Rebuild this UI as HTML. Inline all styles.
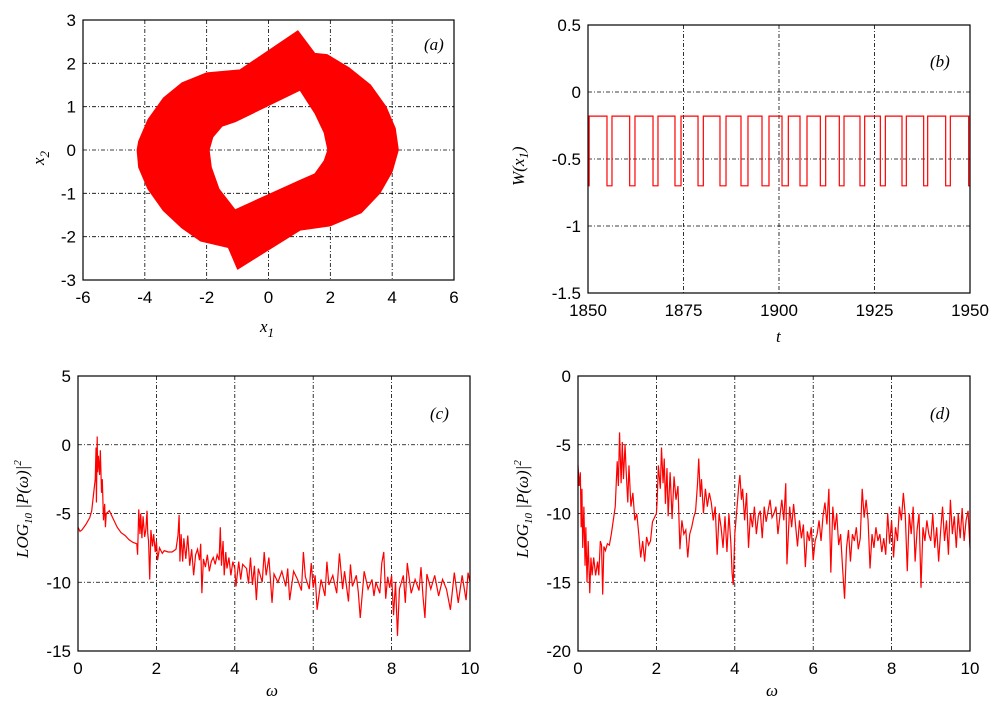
<!DOCTYPE html>
<html><head><meta charset="utf-8"><style>
body{margin:0;background:#fff}
svg text{font-family:"Liberation Sans",sans-serif;font-size:17px;fill:#000}
.it{font-family:"Liberation Serif",serif;font-style:italic}
</style></head><body>
<svg id="fig" width="1000" height="700" viewBox="0 0 1000 700" xmlns="http://www.w3.org/2000/svg"></svg>
<script>
// ---- panel (a) attractor boundaries (x1, x2)
const outerX=[0.95,1.5,1.9,2.6,3.3,3.8,4.1,4.2,4.0,3.6,3.0,2.0,1.02,-1.0,-1.3,-2.2,-2.8,-3.4,-3.9,-4.2,-4.25,-4.2,-3.9,-3.4,-2.8,-2.0,-0.92];
const outerY=[2.75,2.23,2.2,1.9,1.5,1.0,0.5,0,-0.5,-1.0,-1.45,-1.75,-1.85,-2.75,-2.25,-2.1,-1.8,-1.4,-0.9,-0.4,0,0.2,0.7,1.2,1.55,1.78,1.85];
const innerX=[1.02,-1.08,-1.5,-1.8,-1.92,-1.85,-1.6,-1.08,1.02,1.5,1.8,1.92,1.8,1.5];
const innerY=[1.38,0.65,0.55,0.3,0,-0.4,-0.9,-1.38,-0.7,-0.55,-0.25,0,0.4,0.85];
// ---- panel (b) square wave low intervals (t)
const lowStart=[1854.97,1860.91,1867.02,1872.77,1878.80,1884.55,1890.05,1895.55,1900.79,1905.50,1910.82,1915.79,1921.20,1926.53,1932.20,1937.87,1943.63,1949.65];
const lowEnd=[1856.28,1862.30,1868.32,1874.35,1880.19,1886.13,1891.88,1897.38,1902.44,1907.33,1912.22,1917.02,1922.43,1927.84,1933.33,1938.92,1944.85,1950];
const highLevel=-0.18, lowLevel=-0.7;
// ---- panel (c) spectrum
const cW=[0,0.05,0.1,0.2,0.3,0.35,0.4,0.44,0.46,0.47,0.49,0.5,0.52,0.55,0.57,0.6,0.62,0.65,0.68,0.7,0.72,0.8,0.9,1.0,1.1,1.2,1.3,1.4,1.5,1.52,1.55,1.58,1.6,1.63,1.66,1.7,1.73,1.76,1.78,1.8,1.83,1.86,1.9,1.93,1.97,2.0,2.03,2.08,2.15,2.2,2.3,2.4,2.5,2.55,2.58,2.6,2.63,2.67,2.7,2.75,2.8,2.85,2.9,2.95,3.0,3.05,3.1,3.13,3.16,3.2,3.25,3.3,3.35,3.4,3.45,3.5,3.55,3.6,3.63,3.66,3.7,3.73,3.77,3.8,3.85,3.9,3.95,4.0,4.03,4.1,4.15,4.2,4.3,4.35,4.4,4.45,4.5,4.55,4.6,4.7,4.75,4.8,4.87,4.95,5.0,5.1,5.2,5.3,5.35,5.4,5.5,5.6,5.7,5.75,5.8,5.9,5.95,6.0,6.05,6.1,6.2,6.3,6.35,6.4,6.5,6.6,6.67,6.75,6.8,6.9,6.95,7.0,7.1,7.15,7.2,7.3,7.4,7.5,7.55,7.6,7.7,7.75,7.8,7.85,7.9,7.95,8.0,8.05,8.1,8.15,8.2,8.3,8.35,8.4,8.5,8.6,8.7,8.75,8.8,8.85,8.9,9.0,9.1,9.2,9.3,9.4,9.5,9.6,9.7,9.8,9.9,9.95,10.0];
const cP=[-6.0,-6.3,-6.2,-5.8,-5.3,-4.8,-3.5,-2.5,-0.2,-4.2,0.6,-2,-0.8,-2.2,-0.4,-3.5,-2.5,-5.5,-4.3,-6.0,-5.0,-4.8,-5.4,-6.0,-6.4,-6.6,-6.9,-7.1,-7.2,-8.0,-4.7,-6.5,-5,-6.8,-5.2,-6.7,-6.2,-4.8,-6.5,-7,-9.8,-6.2,-7.4,-6.5,-7.8,-7.0,-8.4,-7.5,-7.9,-7.7,-7.8,-7.8,-7.6,-6.6,-5.1,-8.5,-6.5,-8.5,-6.8,-8.3,-6.6,-8.8,-7.6,-9.5,-8,-7.6,-8.4,-7.2,-10.8,-8.3,-8.9,-8.0,-9.2,-8.5,-8.2,-8.7,-8.0,-8.4,-6.0,-8.8,-7.0,-9.5,-7.8,-9.0,-8.2,-9.5,-8.5,-9.0,-10.3,-8.5,-9.8,-8.7,-9.0,-10.1,-8.2,-10.2,-8.8,-11.3,-9.0,-10.0,-7.8,-9.5,-8.2,-11.5,-9.4,-10.0,-9.2,-10.3,-9.0,-11.3,-9.2,-9.8,-10.6,-7.8,-9.6,-10.5,-8.6,-10.4,-9.5,-12.0,-9.8,-11.0,-8.5,-10.2,-9.5,-10.8,-7.9,-10.5,-9.2,-11.4,-8.7,-10.3,-9.5,-10.7,-12.6,-9.2,-10.5,-9.8,-11.0,-10.0,-10.8,-8.6,-7.8,-11.2,-9.6,-10.4,-9.5,-12.4,-10.0,-13.9,-10.5,-9.5,-11.5,-8.6,-10.8,-9.8,-10.6,-8.9,-11.0,-12.6,-9.4,-10.5,-9.5,-11.0,-9.8,-10.5,-12.0,-9.3,-11.5,-9.5,-11.3,-9.3,-10.0];
// ---- panel (d) spectrum
const dW=[0,0.03,0.06,0.08,0.1,0.12,0.15,0.18,0.2,0.23,0.26,0.3,0.33,0.36,0.4,0.45,0.5,0.53,0.57,0.6,0.63,0.66,0.7,0.75,0.8,0.85,0.9,0.95,1.0,1.03,1.06,1.1,1.13,1.16,1.2,1.23,1.27,1.3,1.35,1.4,1.45,1.5,1.55,1.6,1.65,1.7,1.75,1.8,1.85,1.9,1.95,2.0,2.02,2.05,2.1,2.13,2.17,2.2,2.23,2.27,2.3,2.35,2.4,2.45,2.5,2.55,2.6,2.65,2.7,2.75,2.8,2.85,2.9,2.95,3.0,3.05,3.08,3.12,3.15,3.2,3.25,3.3,3.35,3.4,3.45,3.5,3.55,3.6,3.65,3.7,3.75,3.8,3.85,3.9,3.93,3.96,4.0,4.05,4.1,4.13,4.17,4.2,4.25,4.3,4.35,4.4,4.45,4.5,4.55,4.6,4.65,4.7,4.75,4.8,4.85,4.9,4.95,5.0,5.05,5.1,5.15,5.2,5.25,5.3,5.33,5.4,5.45,5.5,5.6,5.65,5.7,5.75,5.8,5.85,5.9,5.95,6.0,6.05,6.1,6.15,6.2,6.25,6.3,6.35,6.4,6.45,6.5,6.55,6.6,6.65,6.7,6.75,6.8,6.85,6.9,6.95,7.0,7.05,7.1,7.15,7.2,7.25,7.3,7.35,7.4,7.45,7.5,7.55,7.6,7.65,7.7,7.75,7.8,7.85,7.9,7.95,8.0,8.05,8.1,8.15,8.2,8.25,8.3,8.35,8.4,8.45,8.5,8.55,8.6,8.65,8.7,8.75,8.8,8.85,8.9,8.95,9.0,9.05,9.1,9.15,9.2,9.25,9.3,9.35,9.4,9.45,9.5,9.55,9.6,9.65,9.7,9.75,9.8,9.85,9.9,9.95,10.0];
const dP=[-6.5,-8,-7,-11,-8.2,-12.5,-9.5,-13.8,-11,-15,-12,-15.8,-13.2,-14.5,-13.2,-14.5,-13.5,-14.5,-12.0,-12.3,-15.9,-12.4,-12.7,-12.2,-12.3,-11.5,-10.5,-9.5,-6.2,-8.0,-4.1,-7.8,-4.8,-7.5,-5.0,-7.0,-9.2,-6.5,-9.5,-8.5,-10.5,-10.0,-11.5,-13.2,-12.0,-13.5,-11.7,-12.3,-12.0,-10.6,-10.3,-10.0,-9.0,-6.5,-8.2,-5.2,-7.8,-6.0,-9.3,-6.7,-10.2,-7.0,-10.4,-7.3,-9.0,-8.0,-12.6,-10.5,-11.5,-11.2,-13.2,-11.5,-11.0,-10.3,-9.8,-7.8,-6.0,-8.8,-7.5,-10.0,-8.2,-9.5,-8.5,-9.2,-10.5,-9.5,-13.0,-10.0,-11.0,-12.5,-10.2,-12.8,-10.0,-12.2,-14.3,-15.2,-11.5,-9.8,-8.0,-7.2,-9.0,-8.2,-10.5,-8.5,-12.5,-10.0,-11.0,-9.5,-11.5,-10.2,-9.8,-11.8,-9.5,-10.6,-9.8,-9.0,-10.3,-10.0,-9.5,-11.5,-10.2,-9.0,-10.5,-7.8,-13.7,-9.5,-11.0,-9.3,-12.4,-10.5,-11.8,-10.8,-13.9,-11.3,-12.0,-11.0,-13.4,-12.0,-11.5,-10.5,-12.0,-10.2,-9.2,-10.8,-8.2,-14.3,-9.5,-11.2,-10.0,-12.3,-11.5,-14.0,-16.2,-12.5,-11.2,-13.5,-11.5,-12.0,-11.0,-12.6,-11.8,-8.2,-10.3,-9.0,-10.5,-14.0,-11.5,-12.5,-11.0,-12.0,-11.5,-12.8,-11.8,-13.0,-10.0,-12.2,-10.5,-13.2,-11.0,-12.0,-9.5,-10.5,-8.5,-10.2,-14.2,-10.0,-11.5,-9.5,-13.5,-11.2,-10.0,-15.4,-11.0,-12.0,-10.5,-11.5,-12.0,-10.0,-12.5,-11.0,-13.5,-11.3,-9.5,-12.0,-10.5,-13.0,-9.0,-11.5,-10.2,-12.5,-10.0,-11.8,-9.6,-12.0,-10.5,-9.8,-12.5];
// ---- tick labels
const aXT=[-6,-4,-2,0,2,4,6], aYT=[-3,-2,-1,0,1,2,3];
const bXT=[1850,1875,1900,1925,1950], bYT=[-1.5,-1,-0.5,0,0.5];
const cXT=[0,2,4,6,8,10], cYT=[-15,-10,-5,0,5];
const dXT=[0,2,4,6,8,10], dYT=[-20,-15,-10,-5,0];

const NS="http://www.w3.org/2000/svg", svg=document.getElementById('fig');
function mk(tag,attrs,parent){const e=document.createElementNS(NS,tag);for(const k in attrs)e.setAttribute(k,attrs[k]);(parent||svg).appendChild(e);return e;}
function scale(d0,d1,p0,p1){return v=>p0+(v-d0)/(d1-d0)*(p1-p0);}
function panel(id,L,R,T,B,xr,yr,xt,yt){
  const g=mk('g',{});
  
  
  const sx=scale(xr[0],xr[1],L,R), sy=scale(yr[0],yr[1],B,T);
  xt.forEach(v=>{const x=sx(v);
    if(x>L+1&&x<R-1){const ln=mk('line',{x1:x,y1:T,x2:x,y2:B,stroke:'#000','stroke-width':0.8,'stroke-dasharray':'4,2,1,2'},g);
      }
    const t=mk('text',{x:x,y:B+23,'text-anchor':'middle'},g);t.textContent=v;
    });
  yt.forEach(v=>{const y=sy(v);
    if(y>T+1&&y<B-1){const ln=mk('line',{x1:L,y1:y,x2:R,y2:y,stroke:'#000','stroke-width':0.8,'stroke-dasharray':'4,2,1,2'},g);
      }
    const t=mk('text',{x:L-7,y:y+6,'text-anchor':'end'},g);t.textContent=v;
    });
  return {g,sx,sy,L,R,T,B};
}
function frame(p){const r=mk('rect',{x:p.L,y:p.T,width:p.R-p.L,height:p.B-p.T,fill:'none',stroke:'#000','stroke-width':1.2},p.g);
  }
function label(p,txt,x,y){const t=mk('text',{x:x,y:y,class:'it','font-size':18},p.g);t.textContent=txt;
  }

// Panel a
const pa=panel('a',83,454,20,280,[-6,6],[-3,3],aXT,aYT);
let dd='M'+outerX.map((x,i)=>pa.sx(x)+','+pa.sy(outerY[i])).join('L')+'Z';
dd+='M'+innerX.map((x,i)=>pa.sx(x)+','+pa.sy(innerY[i])).join('L')+'Z';
const att=mk('path',{d:dd,fill:'#f00','fill-rule':'evenodd',stroke:'#f00','stroke-width':1,'stroke-linejoin':'round'},pa.g);

frame(pa);label(pa,'(a)',424,50);
{const t=mk('text',{x:260,y:332,class:'it','font-size':20},pa.g);t.innerHTML='x<tspan font-size="13" dy="5">1</tspan>';
 
 const t2=mk('text',{x:0,y:0,class:'it','font-size':20,transform:'translate(44,165) rotate(-90)'},pa.g);t2.innerHTML='x<tspan font-size="13" dy="5">2</tspan>';
 }

// Panel b
const pb=panel('b',588,970,25,293,[1850,1950],[-1.5,0.5],bXT,bYT);
let bd='M'+pb.sx(1850)+','+pb.sy(lowLevel)+'L'+pb.sx(1850.3)+','+pb.sy(lowLevel)+'L'+pb.sx(1850.3)+','+pb.sy(highLevel);
lowStart.forEach((s,i)=>{bd+='L'+pb.sx(s)+','+pb.sy(highLevel)+'L'+pb.sx(s)+','+pb.sy(lowLevel)+'L'+pb.sx(lowEnd[i])+','+pb.sy(lowLevel);
  if(lowEnd[i]<1950)bd+='L'+pb.sx(lowEnd[i])+','+pb.sy(highLevel);});
const sw=mk('path',{d:bd,fill:'none',stroke:'#f00','stroke-width':1.2},pb.g);

frame(pb);label(pb,'(b)',930,67);
{const t=mk('text',{x:776,y:342,class:'it','font-size':18},pb.g);t.textContent='t';
 
 const t2=mk('text',{x:0,y:0,class:'it','font-size':20,transform:'translate(524,186) rotate(-90)'},pb.g);t2.innerHTML='W(x<tspan font-size="13" dy="4">1</tspan><tspan dy="-4">)</tspan>';
 }

// Panel c, d
function spec(id,L,R,xt,yt,yr,W,P,lx){
  const p=panel(id,L,R,376,651,[0,10],yr,xt,yt);
  const d='M'+W.map((w,i)=>p.sx(w)+','+p.sy(P[i])).join('L');
  const pl=mk('path',{d:d,fill:'none',stroke:'#f00','stroke-width':1.2},p.g);
  
  frame(p);label(p,'('+id+')',R-40,419);
  const t=mk('text',{x:(L+R)/2-8,y:696,class:'it','font-size':20},p.g);t.textContent='ω';
  
  const t2=mk('text',{x:0,y:0,class:'it','font-size':17,transform:'translate('+lx+',558) rotate(-90)'},p.g);
  t2.innerHTML='LOG<tspan font-size="11" dy="4">10</tspan><tspan dy="-4"> |P(ω)|</tspan><tspan font-size="11" dy="-7">2</tspan>';
  
}
spec('c',78,470,cXT,cYT,[-15,5],cW,cP,28);
spec('d',578,970,dXT,dYT,[-20,0],dW,dP,528);
</script>
</body></html>
